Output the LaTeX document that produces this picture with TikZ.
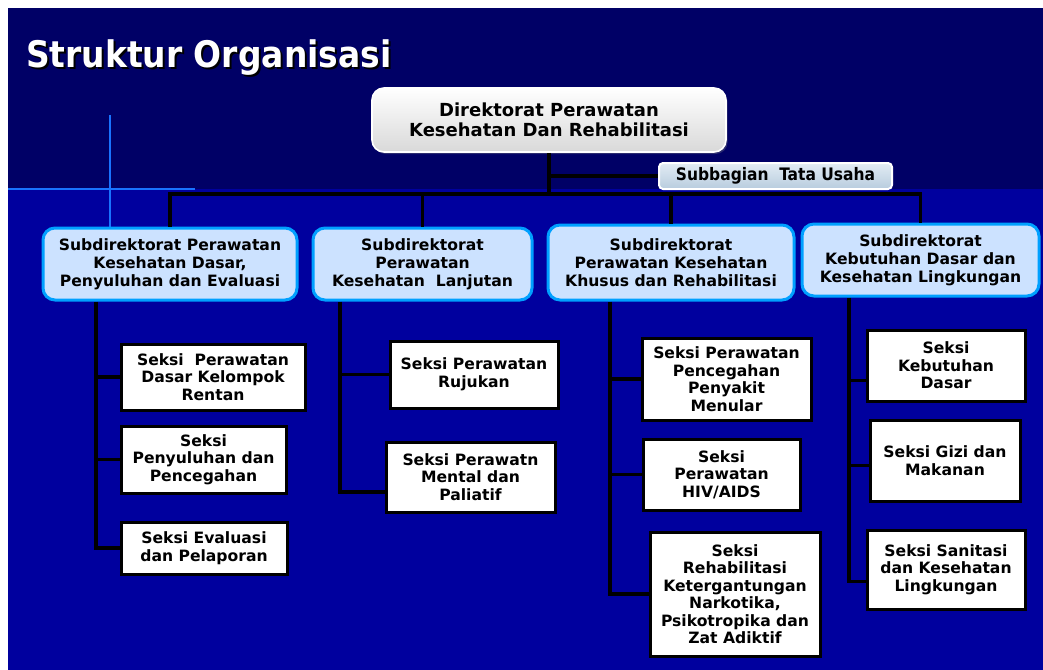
\documentclass[tikz,border=0pt]{standalone}
\usepackage{fontspec}
\setmainfont{DejaVu Sans}
\newfontfamily\condfont{DejaVu Sans Condensed}
\usetikzlibrary{positioning}
\usetikzlibrary{calc}
\usetikzlibrary{shadows}

\definecolor{navytop}{RGB}{0,0,102}
\definecolor{navylow}{RGB}{0,0,158}
\definecolor{navystrip}{RGB}{0,0,112}
\definecolor{crossblue}{RGB}{25,115,255}
\definecolor{subfill}{RGB}{204,226,255}
\definecolor{subedge}{RGB}{0,160,255}
\definecolor{tutop}{RGB}{226,236,244}
\definecolor{tubot}{RGB}{184,204,222}

\begin{document}
\begin{tikzpicture}[x=0.5pt,y=-0.5pt,
		conn/.style={line width=1.7pt,black},
		dirbox/.style={rounded corners=6pt,draw=white,line width=0.8pt,top color=white,bottom color=gray!30,
			align=center,font=\bfseries\fontsize{9}{10}\selectfont,minimum width=177pt,minimum height=32pt,inner sep=0pt,
			drop shadow={shadow xshift=0.8pt,shadow yshift=-1pt,opacity=0.35}},
		tubox/.style={rounded corners=2pt,draw=white,line width=1pt,top color=tutop,bottom color=tubot,
			font=\condfont\bfseries\fontsize{8.6}{9}\selectfont,minimum width=116.5pt,minimum height=13pt,inner sep=0pt},
		subdir/.style={rounded corners=6pt,draw=subedge,line width=1.5pt,fill=subfill,align=center,
			font=\bfseries\fontsize{7.8}{9}\selectfont,inner sep=0pt},
		seksi/.style={draw=black,line width=1.5pt,fill=white,align=center,
			font=\bfseries\fontsize{7.8}{8.75}\selectfont,inner sep=0pt}]
		
		% background
		\useasboundingbox (0,0) rectangle (1043,669);
		\fill[white] (0,0) rectangle (1043,669);
		\fill[navytop] (8,8) rectangle (1060,189);
		\fill[navylow] (8,189) rectangle (1060,690);
		\shade[top color=navylow,middle color=navystrip,bottom color=navylow] (8,189) rectangle (110,690);
		\draw[crossblue,line width=0.9pt] (8,189) -- (195,189);
		\draw[crossblue,line width=0.9pt] (110,115) -- (110,228);
		
		% title
		\node[anchor=base west,text=black,font=\condfont\bfseries\fontsize{18.3}{20}\selectfont] (titleshade) at (21,69) {Struktur Organisasi};
		\node[anchor=base west,text=white,font=\condfont\bfseries\fontsize{18.3}{20}\selectfont] (title) at (19,67) {Struktur Organisasi};
		
		\node[dirbox] (dir) at (549,120) {Direktorat Perawatan\\Kesehatan Dan Rehabilitasi};
		\node[tubox]  (tu)  at (775.5,176) {Subbagian\ \ Tata Usaha};
		
		\node[subdir,minimum width=127pt,minimum height=36pt]   (subA) at (170,264)   {Subdirektorat Perawatan\\Kesehatan Dasar,\\Penyuluhan dan Evaluasi};
		\node[subdir,minimum width=109.5pt,minimum height=36pt] (subB) at (422.5,264) {Subdirektorat\\Perawatan\\Kesehatan\ \ Lanjutan};
		\node[subdir,minimum width=123pt,minimum height=37.5pt] (subC) at (671,262.5) {Subdirektorat\\Perawatan Kesehatan\\Khusus dan Rehabilitasi};
		\node[subdir,minimum width=118.5pt,minimum height=36pt] (subD) at (920.5,260) {Subdirektorat\\Kebutuhan Dasar dan\\Kesehatan Lingkungan};
		
		\node[seksi,minimum width=92pt,minimum height=33pt]     (sekA1) at (213,377)     {Seksi\ \ Perawatan\\Dasar Kelompok\\Rentan};
		\node[seksi,minimum width=82.5pt,minimum height=33.5pt] (sekA2) at (203.5,459.5) {Seksi\\Penyuluhan dan\\Pencegahan};
		\node[seksi,minimum width=83pt,minimum height=26pt]     (sekA3) at (204,548)     {Seksi Evaluasi\\dan Pelaporan};
		
		\node[seksi,minimum width=84pt,minimum height=33.5pt]   (sekB1) at (474,374.5)   {Seksi Perawatan\\Rujukan};
		\node[seksi,minimum width=84.5pt,minimum height=35pt]   (sekB2) at (470.5,477)   {Seksi Perawatn\\Mental dan\\Paliatif};
		
		\node[seksi,minimum width=84.5pt,minimum height=41pt]   (sekC1) at (726.5,379)   {Seksi Perawatan\\Pencegahan\\Penyakit\\Menular};
		\node[seksi,minimum width=78.5pt,minimum height=35.5pt] (sekC2) at (721.5,474.5) {Seksi\\Perawatan\\HIV/AIDS};
		\node[seksi,minimum width=85pt,minimum height=62pt]     (sekC3) at (735,594)     {Seksi\\Rehabilitasi\\Ketergantungan\\Narkotika,\\Psikotropika dan\\Zat Adiktif};
		
		\node[seksi,minimum width=79pt,minimum height=35.5pt]   (sekD1) at (946,365.5)   {Seksi\\Kebutuhan\\Dasar};
		\node[seksi,minimum width=75pt,minimum height=40.5pt]   (sekD2) at (945,460.5)   {Seksi Gizi dan\\Makanan};
		\node[seksi,minimum width=79pt,minimum height=39.5pt]   (sekD3) at (946,569.5)   {Seksi Sanitasi\\dan Kesehatan\\Lingkungan};
		
		% top of the tree
		\coordinate (bus) at (549,194);
		\draw[conn] (dir.south) -- (bus);
		\draw[conn] (dir.south |- tu.west) -- (tu.west);
		\draw[conn] (subA.north) |- (bus) -| (subD.north);
		\draw[conn] (subB.north) -- (subB.north |- bus);
		\draw[conn] (subC.north) -- (subC.north |- bus);
		
		% columns
		\coordinate (colA) at (96,0);
		\coordinate (colB) at (340,0);
		\coordinate (colC) at (610,0);
		\coordinate (colD) at (849,0);
		\coordinate (inB2) at ([yshift=-7.5pt]sekB2.west);
		\coordinate (inD1) at ([yshift=-7.5pt]sekD1.west);
		\coordinate (inD2) at ([yshift=-2.5pt]sekD2.west);
		\coordinate (inD3) at ([yshift=-6pt]sekD3.west);
		
		\draw[conn] (subA.south -| colA) |- (sekA3.west);
		\draw[conn] (colA |- sekA1.west) -- (sekA1.west);
		\draw[conn] (colA |- sekA2.west) -- (sekA2.west);
		
		\draw[conn] (subB.south -| colB) |- (inB2);
		\draw[conn] (colB |- sekB1.west) -- (sekB1.west);
		
		\draw[conn] (subC.south -| colC) |- (sekC3.west);
		\draw[conn] (colC |- sekC1.west) -- (sekC1.west);
		\draw[conn] (colC |- sekC2.west) -- (sekC2.west);
		
		\draw[conn] (subD.south -| colD) |- (inD3);
		\draw[conn] (colD |- inD1) -- (inD1);
		\draw[conn] (colD |- inD2) -- (inD2);
\end{tikzpicture}
\end{document}
